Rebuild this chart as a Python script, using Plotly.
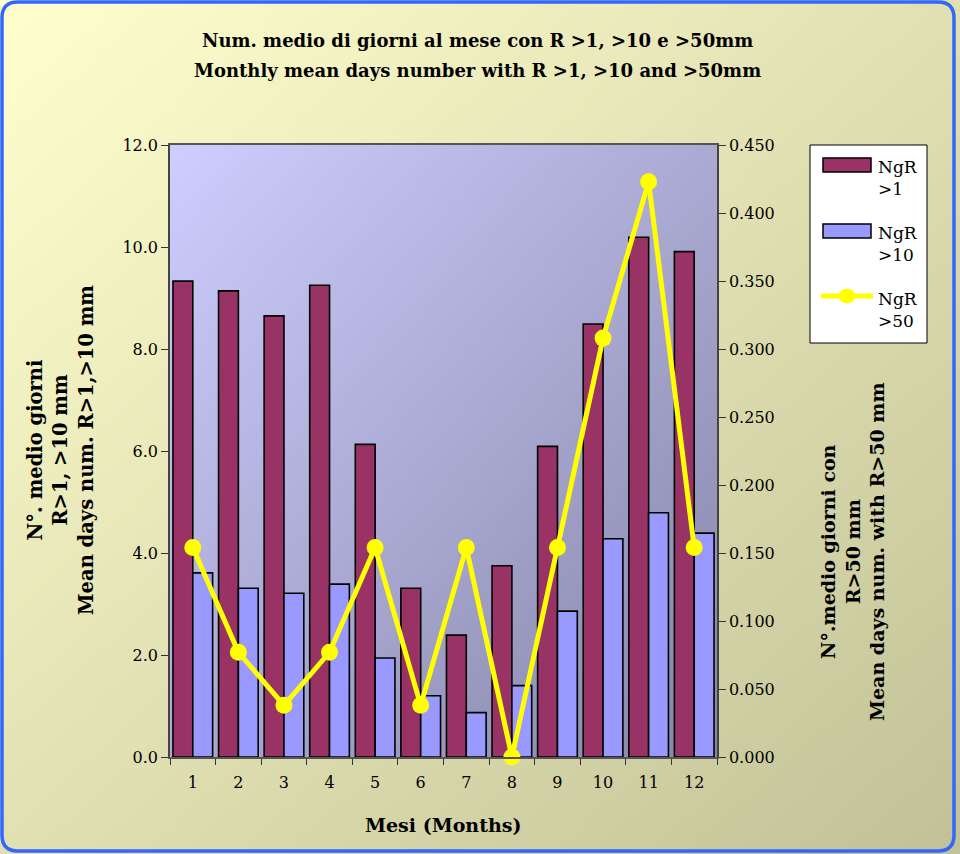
import base64, struct, zlib
import plotly.graph_objects as go

months = ["1", "2", "3", "4", "5", "6", "7", "8", "9", "10", "11", "12"]
ngr1 = [9.33, 9.14, 8.65, 9.25, 6.13, 3.31, 2.39, 3.75, 6.09, 8.49, 10.19, 9.91]
ngr10 = [3.61, 3.31, 3.21, 3.39, 1.94, 1.20, 0.87, 1.40, 2.86, 4.28, 4.79, 4.39]
ngr50 = [0.154, 0.077, 0.038, 0.077, 0.154, 0.038, 0.154, 0.000, 0.154, 0.308, 0.423, 0.154]
series_names = ["NgR<br>>1", "NgR<br>>10", "NgR<br>>50"]
series_colors = ["#993366", "#9999FF", "#FFFF00"]

W, H = 960, 854
L, R, T, B = 170, 717, 145, 757


def png_gradient(w, h, c0, c1):
    rows = []
    for j in range(h):
        row = bytearray([0])
        for i in range(w):
            t = (i / (w - 1) + j / (h - 1)) / 2
            for k in range(3):
                row.append(int(round(c0[k] + (c1[k] - c0[k]) * t)))
        rows.append(bytes(row))
    raw = b"".join(rows)

    def chunk(tag, data):
        c = tag + data
        return struct.pack(">I", len(data)) + c + struct.pack(">I", zlib.crc32(c) & 0xffffffff)

    png = b"\x89PNG\r\n\x1a\n" + chunk(b"IHDR", struct.pack(">IIBBBBB", w, h, 8, 2, 0, 0, 0)) \
        + chunk(b"IDAT", zlib.compress(raw, 9)) + chunk(b"IEND", b"")
    return "data:image/png;base64," + base64.b64encode(png).decode()


pw, ph = R - L, B - T


def px(x):
    return (x - L) / pw


def py(y):
    return (B - y) / ph


bg_img = png_gradient(96, 96, (255, 255, 206), (194, 194, 152))
plot_img = png_gradient(96, 96, (206, 206, 255), (134, 134, 168))

fig = go.Figure()
fig.add_trace(go.Bar(x=months, y=ngr1, name=series_names[0],
                     marker=dict(color=series_colors[0], line=dict(color="black", width=1.6))))
fig.add_trace(go.Bar(x=months, y=ngr10, name=series_names[1],
                     marker=dict(color=series_colors[1], line=dict(color="black", width=1.6))))
fig.add_trace(go.Scatter(x=months, y=ngr50, name=series_names[2], yaxis="y2", mode="lines+markers",
                         line=dict(color=series_colors[2], width=5), marker=dict(color=series_colors[2], size=17),
                         cliponaxis=False))

serif = "DejaVu Serif"

# rounded outer border
x0, y0, x1, y1, r = 2, 2, 954, 851, 16
path = (f"M {px(x0 + r)},{py(y0)} L {px(x1 - r)},{py(y0)} "
        f"Q {px(x1)},{py(y0)} {px(x1)},{py(y0 + r)} "
        f"L {px(x1)},{py(y1 - r)} Q {px(x1)},{py(y1)} {px(x1 - r)},{py(y1)} "
        f"L {px(x0 + r)},{py(y1)} Q {px(x0)},{py(y1)} {px(x0)},{py(y1 - r)} "
        f"L {px(x0)},{py(y0 + r)} Q {px(x0)},{py(y0)} {px(x0 + r)},{py(y0)} Z")

shapes = [dict(type="path", path=path, xref="paper", yref="paper", line=dict(color="#3366FF", width=3.5),
               fillcolor="rgba(0,0,0,0)", layer="above")]

# manual legend
shapes.append(dict(type="rect", xref="paper", yref="paper", x0=px(810), x1=px(927), y0=py(145), y1=py(343),
                   fillcolor="white", line=dict(color="black", width=1), layer="above"))
shapes.append(dict(type="rect", xref="paper", yref="paper", x0=px(823), x1=px(871), y0=py(158), y1=py(172),
                   fillcolor=series_colors[0], line=dict(color="black", width=1.5), layer="above"))
shapes.append(dict(type="rect", xref="paper", yref="paper", x0=px(823), x1=px(871), y0=py(224), y1=py(238),
                   fillcolor=series_colors[1], line=dict(color="black", width=1.5), layer="above"))
shapes.append(dict(type="line", xref="paper", yref="paper", x0=px(821), x1=px(873), y0=py(296), y1=py(296),
                   line=dict(color=series_colors[2], width=5), layer="above"))
shapes.append(dict(type="circle", xref="paper", yref="paper", x0=px(839), x1=px(855), y0=py(289), y1=py(303),
                   fillcolor=series_colors[2], line=dict(color=series_colors[2], width=1), layer="above"))

annotations = [
    dict(text="Num. medio di giorni al mese con R >1, >10 e >50mm", xref="paper", yref="paper",
         x=px(477), y=py(41), showarrow=False, xanchor="center", yanchor="middle",
         font=dict(family=serif, size=18, weight="bold")),
    dict(text="Monthly mean days number with R >1, >10 and >50mm", xref="paper", yref="paper",
         x=px(477), y=py(71), showarrow=False, xanchor="center", yanchor="middle",
         font=dict(family=serif, size=18, weight="bold")),
    dict(text="N°. medio giorni<br>R>1, >10 mm<br>Mean days num. R>1,>10 mm", xref="paper", yref="paper",
         x=px(61), y=py(450), textangle=-90, showarrow=False, xanchor="center", yanchor="middle",
         font=dict(family=serif, size=19.5, weight="bold")),
    dict(text="N°.medio giorni con<br>R>50 mm<br>Mean days num. with R>50 mm", xref="paper", yref="paper",
         x=px(852), y=py(552), textangle=-90, showarrow=False, xanchor="center", yanchor="middle",
         font=dict(family=serif, size=19, weight="bold")),
    dict(text="Mesi (Months)", xref="paper", yref="paper", x=px(443), y=py(825), showarrow=False,
         xanchor="center", yanchor="middle", font=dict(family=serif, size=19, weight="bold")),
]
for name, yt in zip(series_names, [166, 232, 298]):
    annotations.append(dict(text=name, xref="paper", yref="paper", x=px(876), y=py(yt - 11),
                            showarrow=False, xanchor="left", yanchor="top", align="left",
                            font=dict(family=serif, size=17, color="black")))

fig.update_layout(
    width=W, height=H,
    margin=dict(l=L, r=W - R, t=T, b=H - B),
    paper_bgcolor="#FFFFFF",
    plot_bgcolor="rgba(0,0,0,0)",
    barmode="group", bargap=0.13, bargroupgap=0.0,
    font=dict(family=serif, size=16, color="black"),
    showlegend=False,
    xaxis=dict(type="category", range=[-0.5, 11.5], tickson="boundaries", ticks="outside", ticklen=6,
               tickcolor="#333333", ticklabelstandoff=10,
               showline=True, linecolor="#555555", linewidth=1.5, mirror=True, showgrid=False,
               tickfont=dict(family=serif, size=16)),
    yaxis=dict(range=[0, 12], dtick=2, tickformat=".1f", ticks="outside", ticklen=7, tickcolor="#333333",
               showline=True, linecolor="#444444", linewidth=1.5, showgrid=False, zeroline=False,
               tickfont=dict(family=serif, size=16)),
    yaxis2=dict(range=[0, 0.45], dtick=0.05, tickformat=".3f", ticks="outside", ticklen=7, tickcolor="#333333",
                overlaying="y", side="right", showline=True, linecolor="#444444", linewidth=1.5,
                showgrid=False, zeroline=False, tickfont=dict(family=serif, size=16)),
    images=[
        dict(source=bg_img, xref="paper", yref="paper", x=px(0), y=py(0), sizex=W / pw, sizey=H / ph,
             xanchor="left", yanchor="top", sizing="stretch", layer="below"),
        dict(source=plot_img, xref="paper", yref="paper", x=0, y=1, sizex=1, sizey=1,
             xanchor="left", yanchor="top", sizing="stretch", layer="below"),
    ],
    shapes=shapes,
    annotations=annotations,
)

fig.write_html("out.html", config={"displayModeBar": False},
               post_script="document.body.style.margin='0px';document.body.style.overflow='hidden';")
